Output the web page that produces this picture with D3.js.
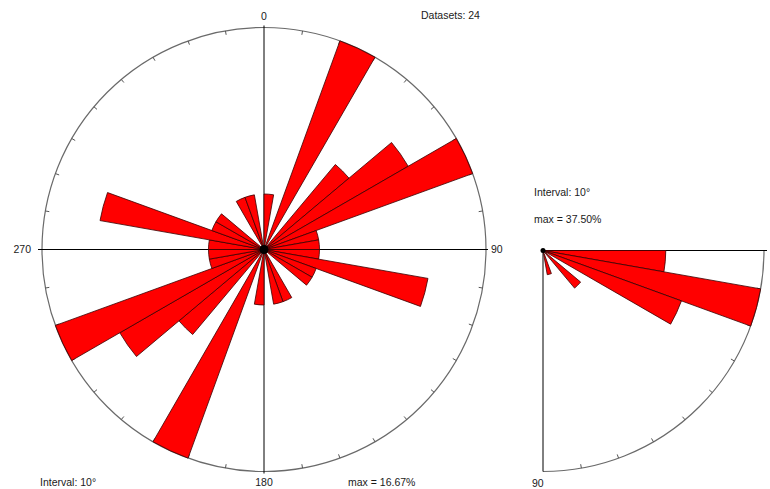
<!DOCTYPE html>
<html>
<head>
<meta charset="utf-8">
<script src="https://cdn.jsdelivr.net/npm/d3@7"></script>
<style>
  html, body { margin: 0; padding: 0; background: #fff; }
  svg { display: block; }
  text { font-family: "Liberation Sans", Arial, sans-serif; font-size: 10.5px; fill: #1a1a1a; }
</style>
</head>
<body>
<svg id="chart" width="770" height="489"></svg>
<script>
// Strike rose: counts per 10° bin (0–10, 10–20, … 350–360), axial data
const strikeBins = d3.range(0, 360, 10);
const strikeCounts = [1, 0, 4, 0, 2, 3, 4, 1, 1, 1, 3, 1, 1, 0, 0, 1, 1, 0,
                      1, 0, 4, 0, 2, 3, 4, 1, 1, 1, 3, 1, 1, 0, 0, 1, 1, 0];
const strikeMaxCount = 4;

// Dip rose: counts per 10° bin (0–10 … 80–90)
const dipBins = d3.range(0, 90, 10);
const dipCounts = [5, 9, 6, 0, 2, 0, 0, 1, 0];
const dipMaxCount = 9;

const compassLabels = ["0", "90", "180", "270"];
const infoTexts = {
  datasets: "Datasets: 24",
  interval: "Interval: 10°",
  maxStrike: "max = 16.67%",
  maxDip: "max = 37.50%",
  dipEnd: "90"
};

const svg = d3.select("#chart");
const rad = d => d * Math.PI / 180;

// ---------- Main strike rose ----------
const cx = 264, cy = 249.5, R = 222;
const g = svg.append("g").attr("transform", `translate(${cx},${cy})`);
const r = d3.scaleLinear().domain([0, strikeMaxCount]).range([0, R]);

g.append("circle").attr("r", R).attr("fill", "none").attr("stroke", "#6a6a6a").attr("stroke-width", 1.2);

// ticks every 10° on the rim, pointing inward
g.selectAll("line.tick").data(d3.range(0, 360, 10).filter(a => a % 90 !== 0)).join("line")
  .attr("class", "tick")
  .attr("x1", a => Math.sin(rad(a)) * R).attr("y1", a => -Math.cos(rad(a)) * R)
  .attr("x2", a => Math.sin(rad(a)) * (R - 4)).attr("y2", a => -Math.cos(rad(a)) * (R - 4))
  .attr("stroke", "#555").attr("stroke-width", 1);

// cross axes
g.append("line").attr("x1", 0).attr("x2", 0).attr("y1", -R - 2).attr("y2", R + 2).attr("stroke", "#000");
g.append("line").attr("x1", -R - 4).attr("x2", R + 2).attr("y1", 0).attr("y2", 0).attr("stroke", "#000");

const arc = d3.arc().innerRadius(0);
g.selectAll("path.petal").data(strikeBins.map((b, i) => ({ b, c: strikeCounts[i] })).filter(d => d.c > 0)).join("path")
  .attr("class", "petal")
  .attr("d", d => arc({ outerRadius: r(d.c), startAngle: rad(d.b), endAngle: rad(d.b + 10) }))
  .attr("fill", "#ff0000").attr("stroke", "#3a0000").attr("stroke-width", 0.8);

g.append("circle").attr("r", 4.5).attr("fill", "#000");

// compass labels
const lab = [
  { t: compassLabels[0], x: 0, y: -R - 8, a: "middle" },
  { t: compassLabels[1], x: R + 5, y: 3.5, a: "start" },
  { t: compassLabels[2], x: 0, y: R + 14, a: "middle" },
  { t: compassLabels[3], x: -R - 11, y: 3.5, a: "end" }
];
g.selectAll("text.lab").data(lab).join("text")
  .attr("class", "lab").attr("x", d => d.x).attr("y", d => d.y)
  .attr("text-anchor", d => d.a).text(d => d.t);

svg.append("text").attr("x", 421).attr("y", 19).text(infoTexts.datasets);
svg.append("text").attr("x", 40).attr("y", 486).text(infoTexts.interval);
svg.append("text").attr("x", 348).attr("y", 486).text(infoTexts.maxStrike);

// ---------- Dip quarter rose ----------
const qx = 543, qy = 250.5, QR = 221;
const q = svg.append("g").attr("transform", `translate(${qx},${qy})`);
const rq = d3.scaleLinear().domain([0, dipMaxCount]).range([0, QR]);
// dip angle 0 points right, 90 points down → d3 arc angle = 90 + dip
q.append("path")
  .attr("d", d3.arc()({ innerRadius: QR, outerRadius: QR, startAngle: rad(90), endAngle: rad(180) }))
  .attr("fill", "none").attr("stroke", "#6a6a6a").attr("stroke-width", 1.2);
q.append("line").attr("x1", 0).attr("y1", 0).attr("x2", QR + 3).attr("y2", 0).attr("stroke", "#000");
q.append("line").attr("x1", 0).attr("y1", 0).attr("x2", 0).attr("y2", QR).attr("stroke", "#000");
q.selectAll("line.tick").data(d3.range(10, 90, 10)).join("line")
  .attr("class", "tick")
  .attr("x1", a => Math.cos(rad(a)) * QR).attr("y1", a => Math.sin(rad(a)) * QR)
  .attr("x2", a => Math.cos(rad(a)) * (QR - 4)).attr("y2", a => Math.sin(rad(a)) * (QR - 4))
  .attr("stroke", "#555");
q.selectAll("path.petal").data(dipBins.map((b, i) => ({ b, c: dipCounts[i] })).filter(d => d.c > 0)).join("path")
  .attr("class", "petal")
  .attr("d", d => arc({ outerRadius: rq(d.c), startAngle: rad(90 + d.b), endAngle: rad(100 + d.b) }))
  .attr("fill", "#ff0000").attr("stroke", "#3a0000").attr("stroke-width", 0.8);
q.append("circle").attr("r", 2.5).attr("fill", "#000");

svg.append("text").attr("x", 534).attr("y", 196).text(infoTexts.interval);
svg.append("text").attr("x", 534).attr("y", 223).text(infoTexts.maxDip);
svg.append("text").attr("x", 532).attr("y", 487).text(infoTexts.dipEnd);
</script>
</body>
</html>
